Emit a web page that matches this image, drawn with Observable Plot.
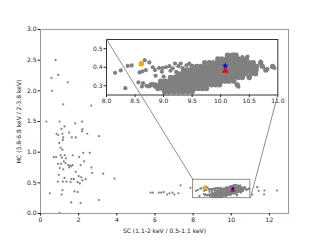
<!DOCTYPE html>
<html><head><meta charset="utf-8">
<script src="https://cdn.jsdelivr.net/npm/d3@7"></script>
<script src="https://cdn.jsdelivr.net/npm/@observablehq/plot@0.6"></script>
<style>
html,body{margin:0;padding:0;background:#fff;}
#wrap{position:relative;width:320px;height:240px;overflow:hidden;background:#fff;}
#wrap svg{position:absolute;overflow:visible;}
</style></head><body><div id="wrap"></div>
<script>
// ---- Data ----
const xLabel = "SC (1.1-2 keV / 0.5-1.1 keV)";
const yLabel = "HC (3.8-6.8 keV / 2-3.8 keV)";
const xTicks = [0, 2, 4, 6, 8, 10, 12];
const yTicks = [0, 0.5, 1.0, 1.5, 2.0, 2.5, 3.0];
const insetXTicks = [8.0, 8.5, 9.0, 9.5, 10.0, 10.5, 11.0];
const insetYTicks = [0.3, 0.4, 0.5];
const insetXDomain = [8, 11];
const insetYDomain = [0.25, 0.55];
// inset placement, in main-axis data units
const insetBoxX = [3.46, 12.44];
const insetBoxY = [1.936, 2.841];

// scattered sources outside the zoomed window
const scatterX = [0.79,0.58,0.93,1.43,0.61,1.19,2.66,2.2,
  0.31,1.0,1.82,2.18,1.26,1.1,0.84,0.93,1.15,1.5,2.18,2.45,3.07,1.19,1.64,1.85,1.17,0.98,1.05,1.15,2.24,2.58,
  0.70,0.82,1.05,1.27,1.69,1.12,1.33,2.03,1.22,2.29,0.91,1.08,1.31,1.45,1.54,1.61,1.68,1.5,2.1,1.01,1.19,2.67,
  1.85,2.71,3.29,0.96,2.0,2.13,1.26,1.62,1.75,2.37,3.88,0.91,1.17,1.36,1.57,1.95,2.06,2.2,1.15,1.78,1.95,0.49,
  1.1,3.06,1.61,2.1,1.0,
  5.77,5.89,6.2,6.33,6.46,6.64,6.76,6.92,7.02,7.23,7.34,7.86,
  11.1,11.36,11.44,11.74,11.72,12.4];
const scatterY = [2.5,2.21,2.26,2.14,2.0,1.78,1.76,1.375,
  1.5,1.5,1.47,1.5,1.42,1.38,1.30,1.28,1.30,1.32,1.34,1.30,1.26,1.24,1.24,1.24,1.20,1.15,1.07,1.04,0.99,0.99,
  0.92,0.92,0.95,0.95,0.95,0.91,0.90,0.92,0.85,0.85,0.81,0.81,0.82,0.79,0.78,0.77,0.79,0.75,0.79,0.74,0.72,0.75,
  0.68,0.66,0.65,0.63,0.61,0.59,0.58,0.56,0.56,0.56,0.57,0.52,0.52,0.52,0.51,0.51,0.49,0.54,0.38,0.36,0.35,0.33,
  0.31,0.22,0.18,0.17,0.01,
  0.34,0.34,0.34,0.34,0.35,0.31,0.33,0.34,0.31,0.33,0.46,0.42,
  0.31,0.43,0.37,0.375,0.31,0.375];

// sparse sources inside the zoomed window
const clusterX = [8.15,8.25,8.33,8.37,8.44,8.67,8.58,8.63,8.69,8.75,8.81,8.85,8.92,8.98,8.86,8.97,9.04,9.1,9.16,
  9.26,9.33,9.4,9.12,9.0,9.22,9.3,9.2,9.45,8.56,8.64,8.7,8.74,8.8,8.85,8.62,
  10.7,10.82,10.91,10.73,10.6,10.5,10.31,10.58,10.94,10.23,10.38,10.47];
const clusterY = [0.37,0.383,0.287,0.407,0.41,0.438,0.372,0.378,0.385,0.426,0.40,0.385,0.396,0.396,0.354,0.376,0.40,0.406,0.394,
  0.406,0.396,0.41,0.381,0.349,0.375,0.42,0.42,0.42,0.318,0.314,0.30,0.296,0.31,0.295,0.296,
  0.43,0.39,0.40,0.408,0.376,0.342,0.295,0.414,0.396,0.468,0.455,0.457];

// dense core, read row by row
const denseRowY = [0.465,0.445,0.425,0.405,0.385,0.365,0.345,0.325,0.305,0.285,0.268];
const denseRowX = [
  [10.12,10.2,10.27],
  [9.95,10.02,10.1,10.17,10.24,10.31,10.38,10.45],
  [9.72,9.8,9.87,9.94,10.01,10.08,10.15,10.22,10.29,10.36,10.43,10.5,10.57,10.7],
  [9.5,9.58,9.65,9.72,9.79,9.86,9.93,10.0,10.07,10.14,10.21,10.28,10.35,10.42,10.49,10.56,10.63,10.73,10.91],
  [9.35,9.42,9.5,9.57,9.64,9.71,9.78,9.85,9.92,9.99,10.06,10.13,10.2,10.27,10.34,10.41,10.48,10.55,10.62,10.79],
  [9.25,9.32,9.39,9.46,9.53,9.6,9.67,9.74,9.81,9.88,9.95,10.02,10.09,10.16,10.23,10.3,10.37,10.44,10.53,10.61],
  [9.12,9.19,9.26,9.33,9.4,9.47,9.54,9.61,9.68,9.75,9.82,9.89,9.96,10.03,10.1,10.17,10.24,10.31,10.38,10.5],
  [8.95,9.03,9.1,9.17,9.24,9.31,9.38,9.45,9.52,9.59,9.66,9.73,9.8,9.87,9.94,10.01,10.08,10.15,10.23],
  [8.78,8.86,8.93,9.0,9.07,9.14,9.21,9.28,9.35,9.42,9.49,9.56,9.63,9.7,9.77,9.84,9.91,9.98,10.29],
  [8.9,8.98,9.05,9.12,9.19,9.26,9.33,9.4,9.47,9.54,9.61,9.68,9.75],
  [9.02,9.1,9.18,9.26,9.34,9.42,9.5]
];

// highlighted sources
const orangeX = [8.61], orangeY = [0.419];
const starX = [10.08], starY = [0.408];
const triX = [10.08], triY = [0.381];

// ---- Build tables ----
const scatter = scatterX.map((x,i)=>({x, y: scatterY[i]}));
const sparse = clusterX.map((x,i)=>({x, y: clusterY[i]}));
const dense = denseRowX.flatMap((xs,i)=>xs.map(x=>({x, y: denseRowY[i]})));
const cluster = sparse.concat(dense);
const orange = orangeX.map((x,i)=>({x, y: orangeY[i]}));
const star = starX.map((x,i)=>({x, y: starY[i]}));
const tri = triX.map((x,i)=>({x, y: triY[i]}));

const GRAY = "#808080";
const font = "DejaVu Sans";
const W = 320, H = 240;
const mainMargins = {marginLeft: 40, marginRight: 32, marginTop: 29, marginBottom: 27};

const main = Plot.plot({
  width: W, height: H, ...mainMargins,
  style: {fontFamily: font, fontSize: "6px", color: "#222", background: "transparent"},
  x: {domain: [0, 13]},
  y: {domain: [0, 3]},
  marks: [
    Plot.dot(scatter.concat(cluster), {x: "x", y: "y", r: 1.1, fill: GRAY, stroke: "none"}),
    Plot.rect([{x1: insetXDomain[0], x2: insetXDomain[1], y1: insetYDomain[0], y2: insetYDomain[1]}],
      {x1: "x1", x2: "x2", y1: "y1", y2: "y2", fill: "none", stroke: GRAY, strokeWidth: 0.9}),
    Plot.dot(orange, {x: "x", y: "y", r: 2.2, fill: "#ffa500"}),
    Plot.dot(tri, {x: "x", y: "y", r: 2.0, symbol: "triangle", fill: "#ff0000"}),
    Plot.dot(star, {x: "x", y: "y", r: 1.5, symbol: "star", fill: "#0000ff"}),
    Plot.frame({stroke: "#999", strokeWidth: 1}),
    Plot.axisX({ticks: xTicks, tickFormat: d3.format("d"), tickSize: 2.5, tickPadding: 1.5,
      label: xLabel, labelAnchor: "center", labelArrow: "none", labelOffset: 19}),
    Plot.axisY({ticks: yTicks, tickFormat: d3.format(".1f"), tickSize: 2.5, tickPadding: 1.5,
      label: yLabel, labelAnchor: "center", labelArrow: "none", labelOffset: 24})
  ]
});

const wrap = document.getElementById("wrap");
main.style.left = "0px"; main.style.top = "0px";
wrap.appendChild(main);

const sx = main.scale("x"), sy = main.scale("y");
const px0 = sx.apply(insetBoxX[0]), px1 = sx.apply(insetBoxX[1]);
const py1 = sy.apply(insetBoxY[1]), py0 = sy.apply(insetBoxY[0]);
const iml = 20, imr = 10, imt = 4, imb = 14;

const inset = Plot.plot({
  width: (px1 - px0) + iml + imr, height: (py0 - py1) + imt + imb,
  marginLeft: iml, marginRight: imr, marginTop: imt, marginBottom: imb,
  style: {fontFamily: font, fontSize: "6px", color: "#222", background: "transparent"},
  x: {domain: insetXDomain},
  y: {domain: insetYDomain},
  marks: [
    Plot.frame({fill: "white", stroke: "none"}),
    Plot.dot(dense, {x: "x", y: "y", r: 2.7, fill: GRAY, stroke: "none"}),
    Plot.dot(sparse, {x: "x", y: "y", r: 2.1, fill: GRAY, stroke: "none"}),
    Plot.dot(orange, {x: "x", y: "y", r: 2.8, fill: "#ffa500"}),
    Plot.dot(tri, {x: "x", y: "y", r: 2.6, symbol: "triangle", fill: "#ff0000"}),
    Plot.dot(star, {x: "x", y: "y", r: 2.1, symbol: "star", fill: "#0000ff"}),
    Plot.frame({stroke: "#333", strokeWidth: 1}),
    Plot.axisX({ticks: insetXTicks, tickFormat: d3.format(".1f"), tickSize: 2.5, tickPadding: 1.5, label: null}),
    Plot.axisY({ticks: insetYTicks, tickFormat: d3.format(".1f"), tickSize: 2.5, tickPadding: 1.5, label: null})
  ]
});
inset.style.left = (px0 - iml) + "px";
inset.style.top = (py1 - imt) + "px";
wrap.appendChild(inset);

// connector lines, drawn on top of the inset
const links = [
  {x1: insetBoxX[0], y1: insetBoxY[1], x2: insetXDomain[0], y2: insetYDomain[1]},
  {x1: insetBoxX[1], y1: insetBoxY[0], x2: insetXDomain[1], y2: insetYDomain[0]}
];
const overlay = Plot.plot({
  width: W, height: H, ...mainMargins,
  style: {background: "transparent"},
  x: {domain: [0, 13], axis: null},
  y: {domain: [0, 3], axis: null},
  marks: [
    Plot.link(links, {x1: "x1", y1: "y1", x2: "x2", y2: "y2", stroke: GRAY, strokeWidth: 0.9})
  ]
});
overlay.style.left = "0px"; overlay.style.top = "0px";
overlay.style.pointerEvents = "none";
wrap.appendChild(overlay);
</script></body></html>
